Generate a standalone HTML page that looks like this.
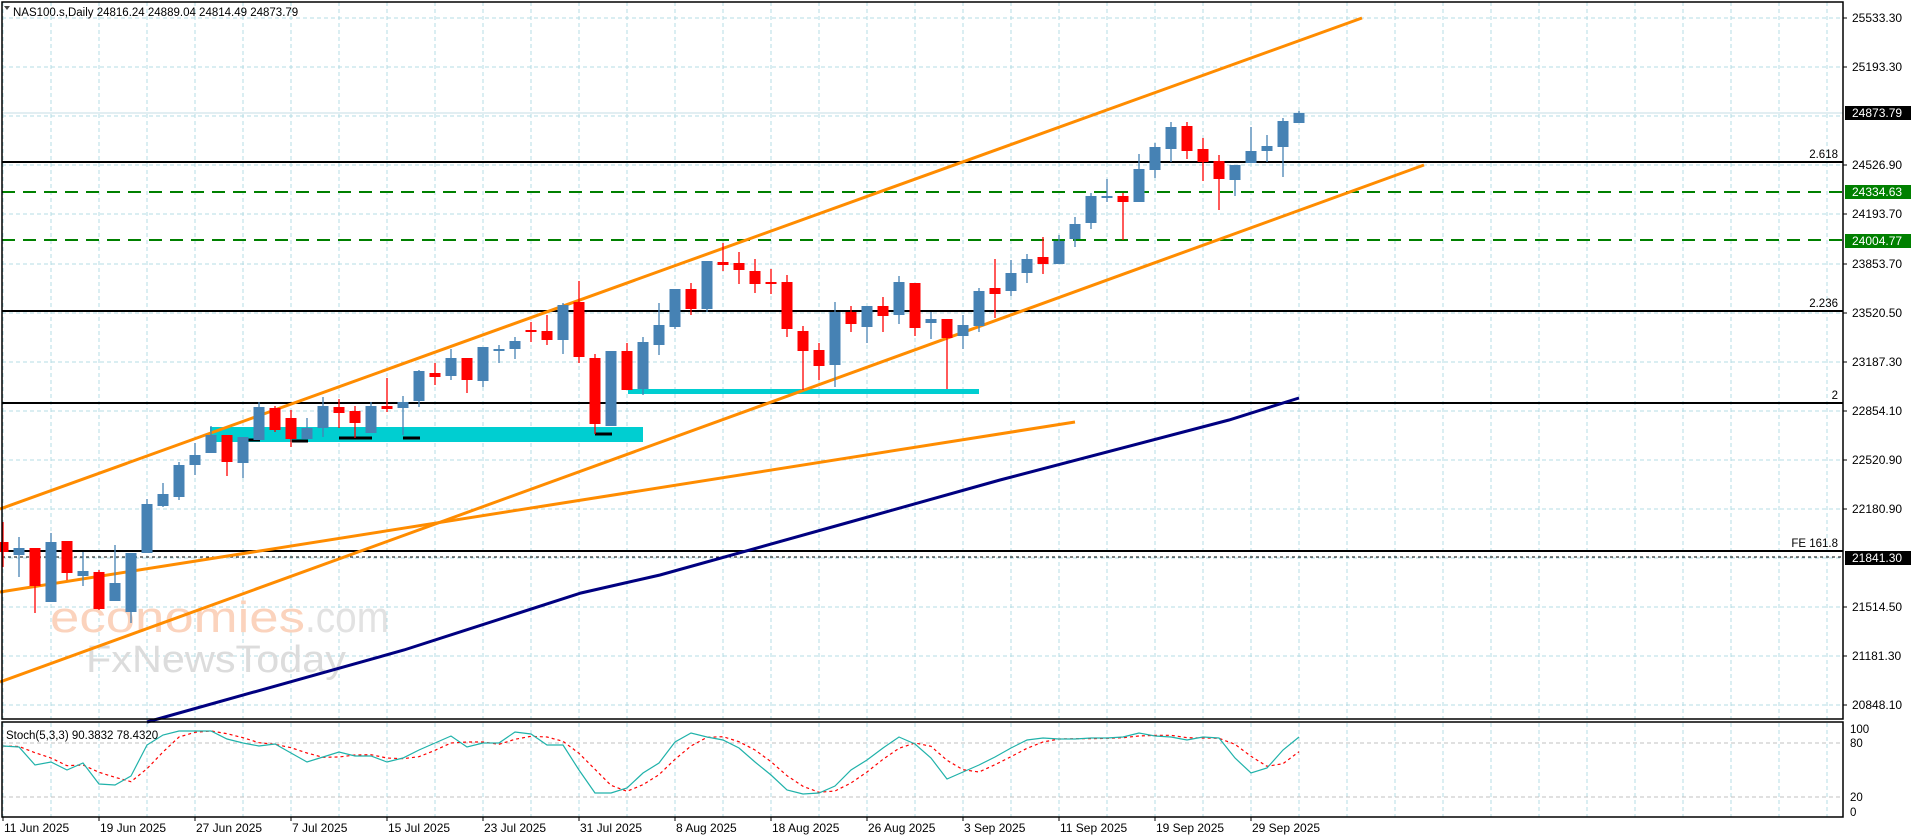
<!DOCTYPE html>
<html><head><meta charset="utf-8"><style>
html,body{margin:0;padding:0;background:#fff;width:1916px;height:840px;overflow:hidden}
svg{display:block;font-family:"Liberation Sans",sans-serif}
</style></head><body>
<svg id="c" width="1916" height="840" viewBox="0 0 1916 840" xmlns="http://www.w3.org/2000/svg"></svg>
<script>
const S=document.getElementById('c');let h='';
const X=i=>3+16*i;
let gl=[18,67,116,165,214,264,313,362,411,460,509,558,607,656,705];
for(const y of gl)h+=`<line x1="2" y1="${y}" x2="1843" y2="${y}" stroke="#b4dce4" stroke-dasharray="4,3"/>`;
for(let i=0;i<=114;i+=3){const x=X(i);if(x>1843)break;h+=`<line x1="${x}" y1="2" x2="${x}" y2="719" stroke="#b4dce4" stroke-dasharray="4,3"/><line x1="${x}" y1="723" x2="${x}" y2="817" stroke="#b4dce4" stroke-dasharray="4,3"/>`;}
h+=`<line x1="2" y1="743" x2="1843" y2="743" stroke="#c0c0c0" stroke-dasharray="4,3"/><line x1="2" y1="797" x2="1843" y2="797" stroke="#c0c0c0" stroke-dasharray="4,3"/>`;
h+=`<text x="50" y="632" font-size="44" fill="#fbd3bd" textLength="255" lengthAdjust="spacingAndGlyphs">economies</text><text x="305" y="632" font-size="44" fill="#e2e2e2" textLength="84" lengthAdjust="spacingAndGlyphs">.com</text>`;
h+=`<text x="86" y="672" font-size="38" fill="#dcdcdc" textLength="260" lengthAdjust="spacingAndGlyphs">FxNewsToday</text>`;
h+=`<line x1="2" y1="113" x2="1843" y2="113" stroke="#c4dce4" stroke-width="1"/>`;
h+=`<line x1="2" y1="192" x2="1843" y2="192" stroke="#008000" stroke-width="2" stroke-dasharray="13,8"/>`;
h+=`<line x1="2" y1="240" x2="1843" y2="240" stroke="#008000" stroke-width="2" stroke-dasharray="13,8"/>`;
for(const [y,t] of [[162,'2.618'],[311,'2.236'],[403,'2'],[551,'FE 161.8']]){h+=`<line x1="2" y1="${y}" x2="1843" y2="${y}" stroke="#000" stroke-width="2"/><text x="1838" y="${y-4}" font-size="11.5">${''}</text><text x="1838" y="${y-4}" font-size="11.5" text-anchor="end">${t}</text>`;}
h+=`<line x1="2" y1="557" x2="1843" y2="557" stroke="#000" stroke-dasharray="3,3"/>`;
h+=`<rect x="210" y="427" width="433" height="15" fill="#00ced1"/><rect x="628" y="389" width="351" height="5" fill="#00ced1"/>`;
for(const [a,b,y] of [[243,260,440],[292,308,441],[339,372,438],[403,420,438],[595,612,434]])h+=`<line x1="${a}" y1="${y}" x2="${b}" y2="${y}" stroke="#000" stroke-width="3"/>`;
const OR='#ff8c00';
h+=`<line x1="0" y1="509" x2="1362" y2="18" stroke="${OR}" stroke-width="3"/>`;
h+=`<line x1="0" y1="682" x2="1424" y2="165" stroke="${OR}" stroke-width="3"/>`;
h+=`<line x1="0" y1="592" x2="1075" y2="422" stroke="${OR}" stroke-width="3"/>`;
h+=`<polyline points="147,722 404,650 581,593 660,575 850,522 1000,480 1229,420 1299,398" fill="none" stroke="#000080" stroke-width="3"/>`;
const C=[[542,552,522,567,0],[548,555,537,577,1],[548,586,548,613,0],[542,602,533,602,1],[541,573,541,580,0],[571,576,552,586,1],[572,609,570,610,0],[583,601,545,601,1],[553,612,553,623,1],[504,553,499,553,1],
[494,506,483,507,1],[465,497,462,500,1],[455,465,443,475,1],[435,453,426,453,1],[435,462,435,476,0],[437,463,437,478,1],[407,440,402,440,1],[408,430,406,432,0],[418,439,410,447,0],[428,439,418,439,1],
[406,428,397,437,1],[407,413,399,428,0],[411,423,406,438,0],[406,433,402,433,1],[406,409,378,412,0],[402,408,396,435,1],[371,401,370,407,1],[373,377,363,385,0],[358,376,349,380,1],[358,380,358,393,0],
[347,381,347,387,1],[349,350,345,363,1],[341,349,337,359,1],[330,332,322,342,0],[331,340,315,345,0],[305,340,303,354,1],[302,357,281,363,0],[358,424,354,434,0],[351,426,351,426,1],[351,390,343,390,0],
[342,389,337,395,1],[325,345,303,355,1],[289,327,289,329,1],[289,309,283,315,0],[261,309,261,312,1],[262,265,243,271,0],[263,270,252,284,0],[271,284,259,293,0],[282,284,269,294,0],[282,329,275,337,0],
[331,351,326,390,0],[350,366,343,380,0],[312,365,302,387,1],[312,324,306,332,0],[306,327,306,343,1],[306,316,297,332,0],[282,315,276,324,1],[283,328,283,336,0],[319,323,312,339,1],[319,338,319,389,0],
[325,336,315,349,1],[291,326,288,332,1],[288,294,259,318,0],[273,291,260,296,1],[259,273,254,283,1],[257,264,237,274,0],[241,264,235,264,1],[224,239,217,247,1],[196,223,193,229,1],[196,197,179,202,1],
[196,202,193,240,0],[169,202,154,202,1],[147,170,143,178,1],[127,149,122,162,1],[126,151,122,159,0],[149,162,138,181,0],[161,179,155,210,0],[165,180,165,196,1],[151,163,127,163,1],[146,151,135,162,1],
[121,147,118,177,1],[113,123,111,123,1]];
C.forEach((c,i)=>{const x=X(i),col=c[4]?'#4682b4':'#ff0000';h+=`<line x1="${x}" y1="${c[2]}" x2="${x}" y2="${c[3]}" stroke="${col}" stroke-width="1.3"/><rect x="${x-5.5}" y="${c[0]}" width="11" height="${Math.max(2,c[1]-c[0])}" fill="${col}"/>`;});
const K=[746,747,765,762,770,763,784,785,776,745,735,731,731,731,739,743,746,744,753,762,757,752,756,756,762,758,750,743,736,747,743,743,732,734,745,745,770,793,793,788,773,763,742,733,
737,740,748,762,775,790,794,793,786,770,760,748,737,744,758,779,772,765,757,748,740,738,739,739,738,738,737,733,736,737,740,737,738,758,773,768,750,737];
let kp=K.map((y,i)=>X(i)+','+y).join(' ');
let dp=K.map((y,i)=>{const a=K.slice(Math.max(0,i-2),i+1);return X(i)+','+(a.reduce((s,v)=>s+v,0)/a.length).toFixed(1)}).join(' ');
h+=`<polyline points="${dp}" fill="none" stroke="#ff0000" stroke-width="1.2" stroke-dasharray="3,3"/><polyline points="${kp}" fill="none" stroke="#20b2aa" stroke-width="1.2"/>`;
h+=`<rect x="2" y="2" width="1841" height="717" fill="none" stroke="#000" stroke-width="1.5"/><rect x="2" y="722" width="1841" height="95" fill="none" stroke="#000" stroke-width="1.5"/>`;
const PL=[[18,'25533.30'],[67,'25193.30'],[165,'24526.90'],[214,'24193.70'],[264,'23853.70'],[313,'23520.50'],[362,'23187.30'],[411,'22854.10'],[460,'22520.90'],[509,'22180.90'],[607,'21514.50'],[656,'21181.30'],[705,'20848.10']];
for(const [y,t] of PL)h+=`<line x1="1843" y1="${y}" x2="1847" y2="${y}" stroke="#000"/><text x="1852" y="${y+4}" font-size="12">${t}</text>`;
for(const [y,t,bg] of [[113,'24873.79','#000'],[192,'24334.63','#008000'],[241,'24004.77','#008000'],[558,'21841.30','#000']])h+=`<rect x="1845" y="${y-7}" width="66" height="14" fill="${bg}"/><text x="1852" y="${y+4}" font-size="12" fill="#fff">${t}</text>`;
for(const [y,t] of [[729,'100'],[743,'80'],[797,'20'],[812,'0']])h+=`<text x="1850" y="${y+4}" font-size="11.5">${t}</text>`;
const D=['11 Jun 2025','19 Jun 2025','27 Jun 2025','7 Jul 2025','15 Jul 2025','23 Jul 2025','31 Jul 2025','8 Aug 2025','18 Aug 2025','26 Aug 2025','3 Sep 2025','11 Sep 2025','19 Sep 2025','29 Sep 2025'];
D.forEach((t,k)=>{const x=X(6*k);h+=`<line x1="${x}" y1="817" x2="${x}" y2="821" stroke="#000"/><text x="${x+1}" y="832" font-size="12">${t}</text>`;});
h+=`<polygon points="4,6 10,6 7,10" fill="#444"/><text x="13" y="16" font-size="11.5">NAS100.s,Daily  24816.24 24889.04 24814.49 24873.79</text>`;
h+=`<text x="6" y="739" font-size="11.5">Stoch(5,3,3) 90.3832 78.4320</text>`;
S.innerHTML=h;
</script>
</body></html>
